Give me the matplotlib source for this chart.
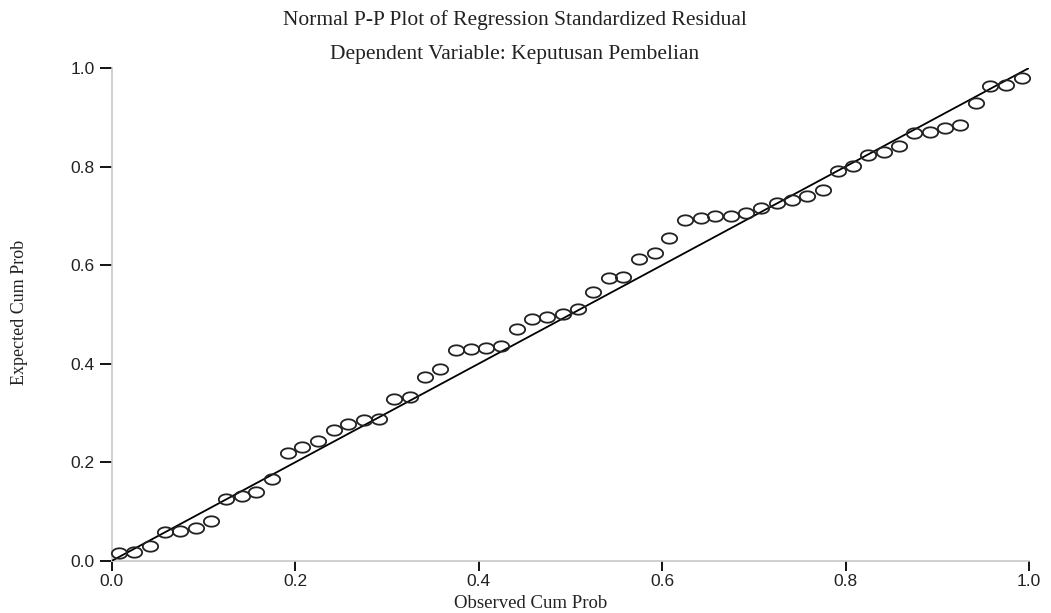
import numpy as np
import matplotlib
matplotlib.use("Agg")
import matplotlib.pyplot as plt
from matplotlib.path import Path

# Observed cumulative probability (x) and expected cumulative probability (y)
observed = [0.008, 0.025, 0.042, 0.058, 0.075, 0.092, 0.108, 0.125, 0.142, 0.158,
            0.175, 0.192, 0.208, 0.225, 0.242, 0.258, 0.275, 0.292, 0.308, 0.325,
            0.342, 0.358, 0.375, 0.392, 0.408, 0.425, 0.442, 0.458, 0.475, 0.492,
            0.508, 0.525, 0.542, 0.558, 0.575, 0.592, 0.608, 0.625, 0.642, 0.658,
            0.675, 0.692, 0.708, 0.725, 0.742, 0.758, 0.775, 0.792, 0.808, 0.825,
            0.842, 0.858, 0.875, 0.892, 0.908, 0.925, 0.942, 0.958, 0.975, 0.992]
expected = [0.017, 0.019, 0.031, 0.059, 0.061, 0.067, 0.081, 0.126, 0.132, 0.139,
            0.166, 0.220, 0.232, 0.243, 0.266, 0.277, 0.286, 0.288, 0.329, 0.333,
            0.374, 0.389, 0.427, 0.430, 0.432, 0.437, 0.471, 0.491, 0.494, 0.501,
            0.511, 0.546, 0.575, 0.576, 0.613, 0.624, 0.655, 0.691, 0.695, 0.700,
            0.700, 0.705, 0.716, 0.727, 0.732, 0.740, 0.752, 0.792, 0.802, 0.824,
            0.830, 0.842, 0.868, 0.870, 0.879, 0.884, 0.928, 0.964, 0.966, 0.979]
ref_line = [0.0, 1.0]
ticks = [0.0, 0.2, 0.4, 0.6, 0.8, 1.0]
tick_labels = ["0.0", "0.2", "0.4", "0.6", "0.8", "1.0"]

title1 = "Normal P-P Plot of Regression Standardized Residual"
title2 = "Dependent Variable: Keputusan Pembelian"
xlabel = "Observed Cum Prob"
ylabel = "Expected Cum Prob"

W, H = 1051, 613
fig = plt.figure(figsize=(W / 100, H / 100), dpi=100)
fig.patch.set_facecolor("white")
ax = fig.add_axes([111.5 / W, (H - 561) / H, (1029 - 111.5) / W, (561 - 68) / H])

# ellipse marker (wider than tall)
t = np.linspace(0, 2 * np.pi, 60)
ell = Path(np.column_stack([np.cos(t), 0.68 * np.sin(t)]), closed=True)

ax.plot(ref_line, ref_line, color="black", lw=1.3, zorder=3, solid_capstyle="butt")
ax.plot(observed, expected, linestyle="none", marker=ell, markersize=11,
        markerfacecolor="none", markeredgecolor="#222222", markeredgewidth=1.3,
        clip_on=False, zorder=4)

ax.set_xlim(0, 1)
ax.set_ylim(0, 1)
for s in ["top", "right"]:
    ax.spines[s].set_visible(False)
for s in ["left", "bottom"]:
    ax.spines[s].set_color("#c8c8c8")
    ax.spines[s].set_linewidth(1.2)

ax.set_xticks(ticks)
ax.set_yticks(ticks)
ax.set_xticklabels(tick_labels, family="Liberation Sans", fontsize=12.5, color="#222222")
ax.set_yticklabels(tick_labels, family="Liberation Sans", fontsize=12.5, color="#222222")
ax.tick_params(axis="x", direction="out", length=7, width=1.3, color="black", pad=2)
ax.tick_params(axis="y", direction="out", length=9, width=1.3, color="black", pad=3)

fig.text(515 / W, 1 - 20 / H, title1, family="Liberation Serif", fontsize=15.5,
         ha="center", va="center", color="#222222")
fig.text(515 / W, 1 - 54 / H, title2, family="Liberation Serif", fontsize=15.5,
         ha="center", va="center", color="#222222")
fig.text(531 / W, 1 - 603 / H, xlabel, family="Liberation Serif", fontsize=13.5,
         ha="center", va="center", color="#222222")
fig.text(20 / W, 1 - 312 / H, ylabel, family="Liberation Serif", fontsize=13,
         ha="center", va="center", rotation=90, color="#222222")

fig.savefig("out.png", dpi=100, facecolor="white")
